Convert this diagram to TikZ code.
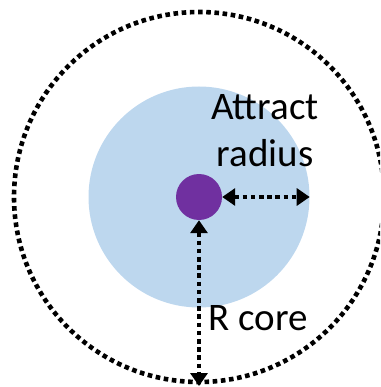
\documentclass[tikz,border=0pt]{standalone}
\usepackage{fontspec}
\setmainfont{Carlito}
\usetikzlibrary{arrows.meta}
\definecolor{lightblue}{HTML}{BDD7EE}
\definecolor{corepurple}{HTML}{7030A0}
\tikzset{
  dotline/.style={line width=4.6pt, dash pattern=on 4.6pt off 3.6pt},
  dimarrow/.style={dotline, {Triangle[length=13pt,width=17pt]}-{Triangle[length=13pt,width=17pt]}},
  lbl/.style={font=\fontsize{39}{48}\selectfont, text=black, inner sep=0pt, align=center}
}
\begin{document}
\begin{tikzpicture}[x=1pt,y=-1pt]
\useasboundingbox (0,0) rectangle (380,387);
\begin{scope}
\clip (0,0) rectangle (380,387);
\node[circle, fill=lightblue, minimum size=221pt, inner sep=0pt] (attract) at (199,197) {};
\node[circle, draw=none, minimum size=370pt, inner sep=0pt] (outer) at (199,197) {};
\draw[dotline] (outer.center) circle[radius=185pt];
\node[circle, fill=corepurple, minimum size=46pt, inner sep=0pt] (core) at (199,197) {};
\coordinate (bottom) at (199,386);
\draw[dimarrow] (core.east) -- (attract.east);
\draw[dimarrow] (core.south) -- (bottom);
\node[lbl, anchor=base] (lab1) at (265,120) {Attract};
\node[lbl, anchor=base] (lab2) at (265,167) {radius};
\node[lbl, anchor=base] (lab3) at (258,330) {R core};
\end{scope}
\end{tikzpicture}
\end{document}
